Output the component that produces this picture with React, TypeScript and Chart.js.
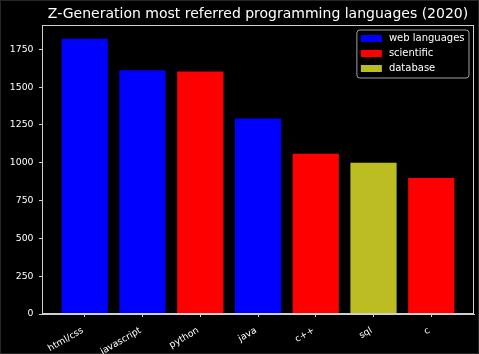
import React, { useEffect, useRef } from "react";
import { Chart, registerables } from "chart.js";

Chart.register(...registerables);

const titleText = "Z-Generation most referred programming languages (2020)";
const categories = ["html/css", "javascript", "python", "java", "c++", "sql", "c"];
const values = [1820, 1612, 1604, 1292, 1060, 1000, 900];
const groups = [0, 0, 1, 0, 1, 2, 1];
const groupNames = ["web languages", "scientific", "database"];
const groupColors = ["#0000ff", "#ff0000", "#bcbd22"];
const yTicks = [0, 250, 500, 750, 1000, 1250, 1500, 1750];
const yMax = 1911;

const FONT = "'DejaVu Sans', sans-serif";

const framePlugin = {
  id: "frame",
  beforeDraw(chart: any) {
    const { ctx, width, height } = chart;
    ctx.save();
    ctx.fillStyle = "#000000";
    ctx.fillRect(0, 0, width, height);
    ctx.strokeStyle = "#262626";
    ctx.lineWidth = 1;
    ctx.strokeRect(0.5, 0.5, width - 1, height - 1);
    ctx.restore();
  },
  afterDraw(chart: any) {
    const { ctx, chartArea } = chart;
    const { left, right, top, bottom } = chartArea;
    ctx.save();
    // spines
    ctx.strokeStyle = "#d0d0d0";
    ctx.lineWidth = 1;
    ctx.strokeRect(Math.round(left) + 0.5, Math.round(top) + 0.5, Math.round(right - left) - 1, Math.round(bottom - top) - 1);
    // title
    ctx.fillStyle = "#ffffff";
    ctx.font = `14px ${FONT}`;
    ctx.textAlign = "center";
    ctx.textBaseline = "middle";
    ctx.fillText(titleText, (left + right) / 2, 14);
    // legend
    ctx.font = `10px ${FONT}`;
    let maxW = 0;
    groupNames.forEach((n) => (maxW = Math.max(maxW, ctx.measureText(n).width)));
    const w = 32 + maxW + 4.5;
    const h = 48;
    const x = right - 5 - w;
    const y = top + 5;
    ctx.beginPath();
    const r = 3;
    ctx.moveTo(x + r, y);
    ctx.lineTo(x + w - r, y);
    ctx.arcTo(x + w, y, x + w, y + r, r);
    ctx.lineTo(x + w, y + h - r);
    ctx.arcTo(x + w, y + h, x + w - r, y + h, r);
    ctx.lineTo(x + r, y + h);
    ctx.arcTo(x, y + h, x, y + h - r, r);
    ctx.lineTo(x, y + r);
    ctx.arcTo(x, y, x + r, y, r);
    ctx.closePath();
    ctx.fillStyle = "rgba(0,0,0,0.8)";
    ctx.fill();
    ctx.strokeStyle = "#a0a0a0";
    ctx.stroke();
    groupNames.forEach((n, i) => {
      const cy = y + 8.5 + i * 15;
      ctx.fillStyle = groupColors[i];
      ctx.fillRect(x + 4, cy - 3.5, 21, 7);
      ctx.fillStyle = "#ffffff";
      ctx.textAlign = "left";
      ctx.textBaseline = "middle";
      ctx.fillText(n, x + 32, cy);
    });
    ctx.restore();
  },
};

export default function App() {
  const ref = useRef<HTMLCanvasElement | null>(null);
  useEffect(() => {
    document.body.style.margin = "0";
    document.body.style.background = "#000";
    if (!ref.current) return;
    const chart = new Chart(ref.current, {
      type: "bar",
      data: {
        datasets: [
          {
            label: "languages",
            data: categories.map((c, i) => ({ x: i, y: values[i] })),
            backgroundColor: groups.map((g) => groupColors[g]),
            borderWidth: 0,
            barPercentage: 0.8,
            categoryPercentage: 1.0,
          },
        ],
      },
      options: {
        responsive: false,
        animation: false,
        devicePixelRatio: 1,
        layout: { padding: { top: 25, right: 5, left: 0, bottom: 0 } },
        plugins: {
          legend: { display: false },
          title: { display: false },
          tooltip: { enabled: false },
        },
        scales: {
          x: {
            type: "linear",
            min: -0.74,
            max: 6.74,
            offset: false,
            afterBuildTicks: (scale: any) => {
              scale.ticks = categories.map((_, i) => ({ value: i }));
            },
            afterFit: (scale: any) => {
              scale.height = 40;
            },
            grid: {
              display: true,
              offset: false,
              drawOnChartArea: false,
              drawTicks: true,
              tickLength: 3,
              tickColor: "#d0d0d0",
            },
            border: { display: true, color: "#d0d0d0", width: 1 },
            ticks: {
              autoSkip: false,
              minRotation: 30,
              maxRotation: 30,
              padding: 8,
              labelOffset: -2,
              color: "#ffffff",
              font: { family: FONT, size: 9.3 },
              callback: (v: any) => categories[Math.round(Number(v))] ?? "",
            },
          },
          y: {
            type: "linear",
            min: 0,
            max: yMax,
            afterBuildTicks: (scale: any) => {
              scale.ticks = yTicks.map((v) => ({ value: v }));
            },
            afterFit: (scale: any) => {
              scale.width = 42;
            },
            grid: {
              display: true,
              drawOnChartArea: false,
              drawTicks: true,
              tickLength: 3,
              tickColor: "#d0d0d0",
            },
            border: { display: true, color: "#d0d0d0", width: 1 },
            ticks: {
              padding: 5.5,
              color: "#ffffff",
              font: { family: FONT, size: 9.3 },
              callback: (v: any) => String(v),
            },
          },
        },
      },
      plugins: [framePlugin],
    });
    return () => chart.destroy();
  }, []);
  return (
    <div style={{ width: 479, height: 354, background: "#000" }}>
      <canvas ref={ref} width={479} height={354} style={{ width: 479, height: 354, display: "block" }} />
    </div>
  );
}
